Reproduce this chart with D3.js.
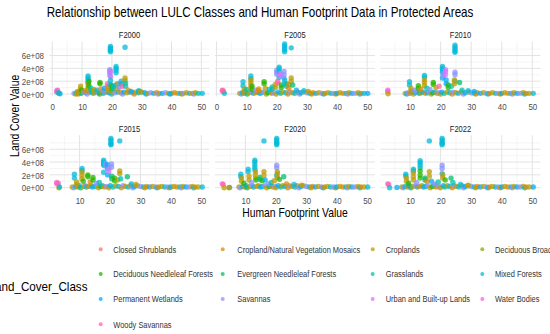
<!DOCTYPE html>
<html><head><meta charset="utf-8">
<script src="https://cdn.jsdelivr.net/npm/d3@7"></script>
<style>body{margin:0;background:#fff}svg{display:block}</style>
</head><body>
<svg id="chart" width="550" height="334"></svg>
<script>
// ---------------- DATA ----------------
const classes = ["Closed Shrublands","Cropland/Natural Vegetation Mosaics","Croplands","Deciduous Broadleaf Forests",
  "Deciduous Needleleaf Forests","Evergreen Needleleaf Forests","Grasslands","Mixed Forests",
  "Permanent Wetlands","Savannas","Urban and Built-up Lands","Water Bodies","Woody Savannas"];
const classColors = ["#F8766D","#E18A00","#BE9C00","#8CAB00","#24B700","#00BE70","#00C1AB","#00BBDA",
  "#00ACFC","#8B93FF","#D575FE","#F962DD","#FF65AC"];
const years = ["F2000","F2005","F2010","F2015","F2020","F2022"];

// Land cover values in units of 1e8. Columns: [human footprint, class index, [values]]
const cols2000 = [[1.5,11,[0.5,0.3]],[1.8,12,[0.6]],[2.2,2,[0.1]],[2.6,8,[0.05]],[2.0,7,[0.2]],
  [8.5,2,[0.4,0.2]],[9.5,2,[1.2,0.8,0.5]],[9.8,4,[0.6]],[10.5,9,[0.3]],[11,1,[0.5]],
  [12,7,[2.8,2.5,2.2,1.8]],[12,2,[1.6,1.1,0.7]],[12.3,4,[2.0,1.3]],[13,6,[0.9,0.5]],[14,2,[0.7,0.4]],
  [15,7,[0.6]],[16,4,[1.8,1.6]],[16.3,1,[0.8]],[17,9,[0.5]],[17.5,8,[0.9]],[18.5,12,[1.6,1.2]],
  [18.8,2,[1.0,0.6]],[19.3,9,[3.8,3.6,3.3,2.9]],[19.6,10,[3.5,2.7]],[19.5,7,[7.4,7.2,7.0,6.8,6.6,2.1,1.5]],
  [20,4,[1.3,0.8]],[20.5,6,[1.2,0.9]],[21.4,7,[4.3,4.0,3.7,3.3,1.4]],[21.8,2,[1.6,0.7]],[22.5,9,[1.5,1.0]],
  [23.1,7,[2.0,1.6]],[23.5,12,[1.2]],[24.4,7,[7.3]],[24.4,2,[2.5,2.1]],[24.6,6,[1.7,1.2]],[25.5,1,[0.6]],
  [26.5,8,[0.4]],[29,7,[0.5,0.4]],[29.5,2,[0.4]]];
const cols2005 = [[1.9,11,[0.5]],[2.3,1,[0.4]],[2.6,7,[0.1]],[2.0,12,[0.6]],
  [8.8,7,[1.9,1.3]],[9.2,2,[0.8,0.4]],[10,6,[0.7]],[11.4,7,[2.8,2.4]],[11.4,2,[2.2,1.8,1.4,1.0]],
  [11.8,4,[1.2,0.7]],[13,9,[0.6]],[14,1,[0.8,0.5]],[15.8,4,[1.9,1.6]],[16.2,2,[0.9]],[17.5,7,[0.7]],
  [18.5,6,[1.1,0.8]],[19.5,2,[1.5,1.0]],[20.0,9,[3.7,3.4,3.1]],[20.3,12,[2.0,1.7]],[20.8,7,[4.2,3.9,3.5,2.6]],
  [21.2,10,[3.2,2.8]],[21.5,4,[1.4,1.0]],[22.4,9,[3.5,3.0,2.5]],[22.6,7,[7.8,7.5,7.2,6.9,6.6,2.2,1.6]],
  [23.2,6,[1.6,1.2]],[24.0,1,[1.5,0.9]],[24.8,7,[7.2]],[24.8,2,[2.5,2.0]],[25.3,5,[1.4]],[26.5,8,[0.6]],
  [29,7,[0.5]],[30.5,2,[0.4]]];
const cols2010 = [[2.7,11,[0.6,0.4]],[2.8,2,[0.05]],
  [9.8,7,[1.9,1.4]],[10.3,2,[0.9,0.5]],[11.5,9,[0.6]],[12.7,4,[1.3,0.9]],[13.5,1,[0.8]],[14.7,7,[2.9,2.6]],
  [14.7,2,[2.2,1.8,1.3]],[15.5,6,[0.9]],[16.5,9,[0.7]],[17.6,4,[1.8,1.5]],[18.5,2,[1.0]],[19.5,12,[1.2]],
  [20.6,7,[4.3,4.0,3.7,3.4,2.5]],[20.8,9,[3.2,2.8]],[21.6,10,[3.8,3.5,3.0]],[21.8,8,[2.2,1.6]],[22.5,4,[1.4,1.0]],
  [23.5,6,[1.2]],[24.7,7,[7.6,7.3,7.0,6.7,6.5,2.0]],[24.7,9,[3.4,3.0]],[24.5,2,[2.2,1.6]],[26.2,5,[1.8]],
  [27,6,[0.6]],[29,7,[0.5]],[31,8,[0.4]]];
const cols2015 = [[2.5,11,[0.8,0.6]],[3.0,12,[0.7]],[3.2,2,[0]],[3.4,7,[0.1]],
  [8.3,7,[2.1,1.5]],[9.0,2,[0.9,0.5]],[10.8,7,[3.0,2.7]],[10.8,2,[2.4,1.9,1.4]],[11.2,4,[1.0]],
  [12.7,4,[2.0,1.7]],[13.5,1,[0.9]],[14.4,4,[1.6,1.2]],[15.5,9,[0.7]],[16.5,6,[0.8]],
  [17.9,7,[4.3,4.0,3.7,3.5,2.4]],[18.5,9,[3.8,3.4]],[19.2,8,[3.6,3.0,2.0]],[19.6,10,[3.0,2.5]],
  [20.3,7,[7.7,7.4,7.1,6.8,6.7]],[20.5,9,[3.7,3.2]],[20.6,5,[1.8,1.4]],[21.5,4,[1.5,1.1]],[22.5,2,[1.2]],
  [23.2,7,[7.3]],[23.2,2,[2.6,2.2]],[23.5,6,[1.4]],[25.7,5,[1.7]],[27,7,[0.6]],[28.5,2,[0.5]]];
const cols2020 = [[2.4,11,[0.6]],[2.7,12,[0.5]],[3.0,2,[0]],[4.8,8,[0.05]],[4.6,2,[0]],
  [8.5,7,[2.1,1.7]],[8.7,2,[1.5,1.0]],[9.5,4,[0.7]],[10.9,7,[2.9,2.5]],[11.2,2,[1.8,1.2]],[12.0,9,[0.8]],
  [13.1,7,[4.3,4.0,3.6,3.2,2.8]],[13.3,2,[2.5,2.0,1.5]],[13.5,4,[1.2]],[14.8,5,[1.6,1.3]],[15.5,4,[1.1]],
  [16.1,7,[7.3]],[16.1,2,[2.5,1.9]],[16.5,8,[1.2]],[17.5,9,[0.6]],[18.5,6,[0.8]],[19.5,2,[1.1]],
  [20.3,7,[7.7,7.4,7.1,6.9,6.7,1.9]],[20.3,9,[3.5,3.1]],[20.5,2,[2.5,2.2,1.6]],[21.2,4,[1.3]],
  [22.6,5,[1.7]],[23.5,1,[0.6]],[26,7,[0.5]],[28.5,2,[0.4]]];
const cols2022 = [[2.7,11,[0.6]],[3.0,12,[0.5]],[3.3,7,[0]],[5.7,8,[0.05]],
  [8.6,7,[2.1,1.8]],[8.8,2,[1.5,1.0]],[9.5,4,[0.7]],[11.1,7,[2.9,2.6]],[11.1,2,[2.3,1.7,1.2]],[12.2,9,[0.8]],
  [13.3,7,[4.2,3.9,3.5,3.1]],[13.3,4,[2.6,2.0,1.5]],[14.9,5,[1.5,1.2]],[15.5,1,[1.0]],[16.3,7,[7.3]],
  [16.3,2,[2.5,1.8]],[17.0,8,[1.0]],[18,9,[0.6]],[19.2,6,[0.9]],[20.5,7,[7.7,7.4,7.1,6.9,6.7,2.2]],
  [20.5,9,[3.5,3.0]],[20.7,2,[2.0,1.5]],[21.5,4,[1.2]],[23.4,5,[1.5]],[24,6,[0.8]],[26.5,7,[0.5]],[29,2,[0.4]]];

// Low-value records along the bottom: [human footprint, class index, value]
const base2000 = [[7.3,9,0.1],[7.8,2,0],[8.2,7,0.2],[8.7,1,0],[9.2,8,0.2],[9.7,5,0.1],[10.3,2,0.3],[11.2,7,0.2],
  [11.7,9,0],[12.6,1,0.3],[13.4,8,0.2],[13.9,2,0.1],[14.6,7,0.3],[15.4,9,0.2],[15.9,4,0],[16.7,2,0.3],[17.2,7,0.1],
  [18.2,1,0.3],[19,8,0.2],[19.9,6,0],[20.2,2,0.3],[21,9,0.2],[22,7,0.3],[23,1,0.2],[23.6,9,0],[24,8,0.3],[25,2,0.2],
  [26,7,0.3],[27,9,0.2],[27.5,1,0],[28,2,0.3],[29,6,0.2],[30,1,0.3],[31,8,0.2],[31.5,7,0],[32,2,0.1],[33,9,0.2],
  [34,7,0.1],[35,1,0.2],[35.5,9,0],[36,2,0.1],[37,8,0.1],[38,9,0.2],[39,2,0.1],[39.5,8,0],[40,7,0.1],[41,1,0.2],
  [42,2,0.1],[43,8,0.1],[43.5,2,0],[44,9,0.1],[45,2,0.2],[46,7,0.1],[47,1,0.1],[47.5,9,0],[48,2,0.2],[49,6,0.1],[50.3,7,0.1]];
const base2005 = [[7.7,2,0.1],[8.2,9,0],[8.6,7,0.2],[9.1,1,0.1],[9.6,8,0.3],[10.2,5,0],[10.8,2,0.2],[11.6,9,0.3],
  [12.2,7,0.1],[12.9,1,0.2],[13.5,2,0.3],[14.3,8,0.1],[14.9,7,0.2],[15.5,9,0.3],[16.5,2,0],[17,4,0.2],[17.9,7,0.3],
  [18.3,1,0.1],[19.1,9,0.2],[19.8,2,0],[20.6,8,0.3],[21.3,6,0.1],[22,2,0.3],[23,7,0.2],[23.7,1,0],[24.3,9,0.3],
  [25.2,2,0.2],[26,7,0.1],[27,1,0.3],[27.6,9,0],[28,8,0.2],[29,2,0.3],[30,9,0.2],[31,7,0.1],[31.6,2,0],[32,1,0.2],
  [33,8,0.1],[34,2,0.2],[35,9,0.1],[35.6,7,0],[36,1,0.1],[37,2,0.2],[38,7,0.1],[39,9,0.1],[39.6,2,0],[40,8,0.1],
  [41,2,0.2],[42,1,0.1],[43,7,0.1],[43.6,9,0],[44,2,0.2],[45,8,0.1],[46,9,0.1],[47,2,0.2],[47.6,7,0],[48,1,0.1],
  [49,7,0.1],[50.2,8,0.1]];
const base2010 = [[8.4,2,0.1],[8.9,7,0],[9.3,9,0.2],[9.9,1,0.1],[10.6,8,0.3],[11.1,2,0],[11.8,7,0.2],[12.3,9,0.3],
  [13,5,0.1],[13.7,2,0.2],[14.2,8,0.3],[15,1,0.1],[15.7,7,0.2],[16.2,9,0.3],[16.9,2,0],[17.4,4,0.2],[18,7,0.3],
  [18.8,1,0.1],[19.4,9,0.2],[20,2,0],[20.4,8,0.3],[21.2,6,0.1],[22.1,2,0.3],[23,7,0.2],[23.8,1,0],[24.1,9,0.3],
  [25,2,0.2],[25.8,7,0.1],[26.7,1,0.3],[27.4,9,0],[28,8,0.2],[29.2,2,0.3],[30,9,0.2],[31,7,0.1],[31.5,2,0],
  [32,1,0.2],[33,8,0.1],[34,2,0.2],[35,9,0.1],[35.5,7,0],[36,1,0.1],[37,2,0.2],[38,7,0.1],[39,9,0.1],[39.5,2,0],
  [40,8,0.1],[41,2,0.2],[42,1,0.1],[43,7,0.1],[43.5,9,0],[44,2,0.2],[45,8,0.1],[46,9,0.1],[47,2,0.2],[47.5,7,0],
  [48,1,0.1],[49,2,0.1],[50.3,7,0.1]];
const base2015 = [[7.6,2,0.1],[8.1,9,0],[8.8,7,0.2],[9.4,1,0.1],[9.9,8,0.3],[10.4,5,0],[11.5,2,0.2],[11.9,9,0.3],
  [12.3,7,0.1],[13,1,0.2],[13.8,2,0.3],[14.2,8,0.1],[15,7,0.2],[15.9,9,0.3],[16.2,2,0],[17,4,0.2],[17.5,7,0.3],
  [18.2,1,0.1],[18.9,9,0.2],[19.6,2,0],[20.1,8,0.3],[21,6,0.1],[21.9,2,0.3],[22.8,7,0.2],[23.7,1,0],[24.3,9,0.3],
  [25,2,0.2],[26,7,0.1],[26.8,1,0.3],[27.5,9,0],[28,8,0.2],[29,2,0.3],[30,9,0.2],[31,7,0.1],[31.5,2,0],[32,1,0.2],
  [33,8,0.1],[34,2,0.2],[35,9,0.1],[35.5,7,0],[36,1,0.1],[37,2,0.2],[38,7,0.1],[39,9,0.1],[39.5,2,0],[40,8,0.1],
  [41,2,0.2],[42,1,0.1],[43,7,0.1],[43.5,9,0],[44,2,0.2],[45,8,0.1],[46,9,0.1],[47,2,0.2],[47.5,7,0],[48,1,0.1],
  [49,2,0.1],[50.3,7,0.1]];
const base2020 = [[7.9,2,0.1],[8.3,9,0],[9.1,7,0.2],[9.8,1,0.1],[10.3,8,0.3],[10.6,5,0],[11.6,2,0.2],[12.3,9,0.3],
  [12.7,7,0.1],[13.8,1,0.2],[14.3,2,0.3],[15,8,0.1],[15.6,7,0.2],[16.3,9,0.3],[17,2,0],[17.8,4,0.2],[18.2,7,0.3],
  [19,1,0.1],[19.7,9,0.2],[20,2,0],[20.8,8,0.3],[21.6,6,0.1],[22.2,2,0.3],[23,7,0.2],[23.9,1,0],[24.5,9,0.3],
  [25.2,2,0.2],[26.3,7,0.1],[27,1,0.3],[27.6,9,0],[28.2,8,0.2],[29,2,0.3],[30,9,0.2],[31,7,0.1],[31.6,2,0],[32,1,0.2],
  [33,8,0.1],[34,2,0.2],[35,9,0.1],[35.6,7,0],[36,1,0.1],[37,2,0.2],[38,7,0.1],[39,9,0.1],[39.6,2,0],[40,8,0.1],
  [41,2,0.2],[42,1,0.1],[43,7,0.1],[43.6,9,0],[44,2,0.2],[45,8,0.1],[46,9,0.1],[47,2,0.2],[47.6,7,0],[48,1,0.1],
  [49,2,0.1],[50.2,7,0.1]];
const base2022 = [[7.3,2,0.1],[7.8,9,0],[8.4,7,0.2],[9.2,1,0.1],[9.7,8,0.3],[10.3,5,0],[10.9,2,0.2],[11.7,9,0.3],
  [12.4,7,0.1],[12.9,1,0.2],[13.9,2,0.3],[14.4,8,0.1],[15.1,7,0.2],[15.8,9,0.3],[16.6,2,0],[17.3,4,0.2],[17.9,7,0.3],
  [18.5,1,0.1],[19.4,9,0.2],[19.9,2,0],[20.9,8,0.3],[21.4,6,0.1],[22.2,2,0.3],[22.9,7,0.2],[23.8,1,0],[24.4,9,0.3],
  [25.1,2,0.2],[26,7,0.1],[27,1,0.3],[27.5,9,0],[28,8,0.2],[29,2,0.3],[30,9,0.2],[31,7,0.1],[31.5,2,0],[32,1,0.2],
  [33,8,0.1],[34,2,0.2],[35,9,0.1],[35.5,7,0],[36,1,0.1],[37,2,0.2],[38,7,0.1],[39,9,0.1],[39.5,2,0],[40,8,0.1],
  [41,2,0.2],[42,1,0.1],[43,7,0.1],[43.5,9,0],[44,2,0.2],[45,8,0.1],[46,9,0.1],[47,2,0.2],[47.5,7,0],[48,1,0.1],
  [49,2,0.1],[50.3,8,0.1]];

const xTickValues = [0,10,20,30,40,50];
const xMinorValues = [5,15,25,35,45];
const yTickValues = [0,2,4,6];          // ×1e8
const yTickLabels = ["0e+00","2e+08","4e+08","6e+08"];
const yMinorValues = [1,3,5,7];
const titleText = "Relationship between LULC Classes and Human Footprint Data in Protected Areas";

// ---------------- LAYOUT ----------------
const FONT = "'Liberation Sans',Arial,sans-serif";
const SX = 0.81;               // horizontal squeeze of the reference's lettering
const panelW = 160, panelH = 55;
const colX = [49.5, 215, 380.5];
const rowY = [41.5, 135.2];
const ptR = 2.7, ptOpacity = 0.75;

const svg = d3.select("#chart");
svg.append("rect").attr("width",550).attr("height",334).attr("fill","#fff");

function label(parent, x, y, str, size, color, anchor, sx, rot) {
  const g = parent.append("g").attr("transform",`translate(${x},${y})${rot?` rotate(${rot})`:""} scale(${sx},1)`);
  return g.append("text").attr("x",0).attr("y",0).attr("dy","0.35em").attr("text-anchor",anchor)
    .attr("font-family",FONT).attr("font-size",size).attr("fill",color).text(str);
}

const panelCols = [cols2000, cols2005, cols2010, cols2015, cols2020, cols2022];
const panelBase = [base2000, base2005, base2010, base2015, base2020, base2022];
const panelPts = panelCols.map((cols,i) => {
  const pts = panelBase[i].map(d => ({x:d[0], c:d[1], y:d[2]}));
  cols.forEach(col => col[2].forEach(v => pts.push({x:col[0], c:col[1], y:v})));
  return pts;
});

// fixed y scale across panels (ggplot expansion 5%)
const allY = panelPts.flat().map(d => d.y);
const yMin = d3.min(allY), yMax = d3.max(allY), yPad = (yMax - yMin) * 0.05;
const yScale = d3.scaleLinear().domain([yMin - yPad, yMax + yPad]).range([panelH, 0]);

label(svg, 260, 12.5, titleText, 14, "#000", "middle", 0.83);

years.forEach((yr, i) => {
  const r = Math.floor(i/3), c = i%3;
  const g = svg.append("g").attr("transform",`translate(${colX[c]},${rowY[r]})`);
  const pts = panelPts[i];
  const [xmn, xmx] = d3.extent(pts, d => d.x);
  const xp = (xmx - xmn) * 0.05;
  const xScale = d3.scaleLinear().domain([xmn - xp, xmx + xp]).range([0, panelW]);
  const dom = xScale.domain();
  const inX = v => v >= dom[0] && v <= dom[1];
  const dY = yScale.domain();
  const inY = v => v >= dY[0] && v <= dY[1];

  // grid
  g.selectAll(".xmin").data(xMinorValues.filter(inX)).join("line")
    .attr("x1",d=>xScale(d)).attr("x2",d=>xScale(d)).attr("y1",0).attr("y2",panelH)
    .attr("stroke","#f0f0f0").attr("stroke-width",0.7);
  g.selectAll(".ymin").data(yMinorValues.filter(inY)).join("line")
    .attr("y1",d=>yScale(d)).attr("y2",d=>yScale(d)).attr("x1",0).attr("x2",panelW)
    .attr("stroke","#f0f0f0").attr("stroke-width",0.7);
  g.selectAll(".xmaj").data(xTickValues.filter(inX)).join("line")
    .attr("x1",d=>xScale(d)).attr("x2",d=>xScale(d)).attr("y1",0).attr("y2",panelH)
    .attr("stroke","#e3e3e3").attr("stroke-width",1);
  g.selectAll(".ymaj").data(yTickValues).join("line")
    .attr("y1",d=>yScale(d)).attr("y2",d=>yScale(d)).attr("x1",0).attr("x2",panelW)
    .attr("stroke","#e3e3e3").attr("stroke-width",1);

  // points
  g.selectAll("circle").data(pts).join("circle")
    .attr("cx",d=>xScale(d.x)).attr("cy",d=>yScale(d.y)).attr("r",ptR)
    .attr("fill",d=>classColors[d.c]).attr("fill-opacity",ptOpacity);

  // strip
  label(g, panelW/2, -6.5, yr, 9.3, "#1a1a1a", "middle", SX);

  // x axis
  const xa = d3.axisBottom(xScale).tickValues(xTickValues.filter(inX)).tickSize(0).tickPadding(0);
  const xg = g.append("g").attr("transform",`translate(0,${panelH})`).call(xa);
  xg.select(".domain").remove();
  xg.selectAll("text").attr("x",0).attr("y",10.3).attr("dy","0.35em").attr("font-family",FONT)
    .attr("font-size",9.8).attr("fill","#4d4d4d").attr("transform",`scale(${SX},1)`);

  // y axis (left column only)
  if (c === 0) {
    const ya = d3.axisLeft(yScale).tickValues(yTickValues).tickFormat((d,k)=>yTickLabels[k]).tickSize(0).tickPadding(0);
    const yg = g.append("g").call(ya);
    yg.select(".domain").remove();
    yg.selectAll("text").attr("x",0).attr("font-family",FONT).attr("font-size",9.8).attr("fill","#4d4d4d")
      .attr("text-anchor","end").attr("transform",`translate(-5.5,0) scale(${SX},1)`);
  }
});

// axis titles
label(svg, (colX[0]+colX[2]+panelW)/2, 212.5, "Human Footprint Value", 12.8, "#000", "middle", SX);
const yMid = (rowY[0] + rowY[1] + panelH)/2;
label(svg, 15, yMid, "Land Cover Value", 12.8, "#000", "middle", SX, -90);

// legend
const legKeyX = [100.7, 222.7, 372.7, 482.3];
const legTextX = [113.3, 237.3, 385.7, 495];
const legRowY = [249.3, 274, 299, 324.3];
label(svg, 87.5, (legRowY[0]+legRowY[3])/2, "Land_Cover_Class", 12, "#000", "end", 0.97);
const lg = svg.append("g");
classes.forEach((name,k) => {
  const r = Math.floor(k/4), c = k%4;
  lg.append("circle").attr("cx",legKeyX[c]).attr("cy",legRowY[r]).attr("r",2)
    .attr("fill",classColors[k]).attr("fill-opacity",ptOpacity);
  label(lg, legTextX[c], legRowY[r], name, 9.2, "#333", "start", SX);
});
</script>
</body></html>
